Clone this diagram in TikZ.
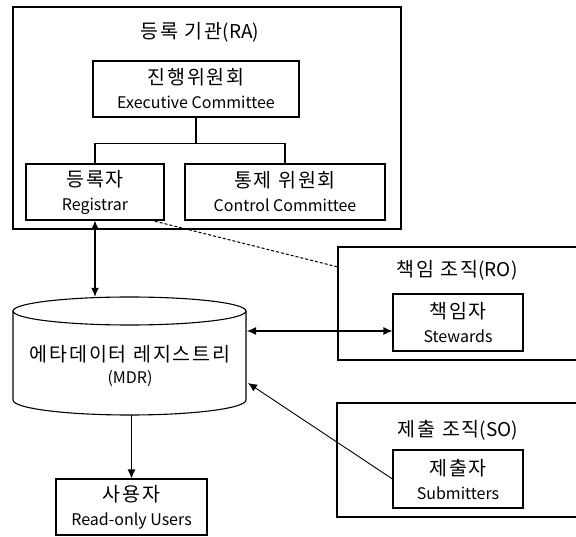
\documentclass[tikz,border=0pt]{standalone}
\usepackage{fontspec}
\setmainfont{Noto Sans CJK KR}
\newfontfamily\kofont[LetterSpace=10]{Noto Sans CJK KR}
\usetikzlibrary{arrows.meta,calc}
\newcommand{\ko}{\kofont\fontsize{19.5}{24}\selectfont}
\newcommand{\en}{\normalfont\fontsize{16}{24}\selectfont}
\newcommand{\lat}[1]{{\normalfont\fontsize{19}{24}\selectfont #1}}
\tikzset{
  box/.style={draw, line width=1.1pt, inner sep=0pt, align=center, fill=white, font=\ko},
  outer/.style={draw, line width=1.3pt, inner sep=0pt},
  ttl/.style={inner sep=0pt, font=\ko},
  conn/.style={line width=1.1pt},
  tip/.style={-{Latex[length=9pt,width=8pt]}},
  ttip/.style={{Latex[length=9pt,width=8pt]}-{Latex[length=9pt,width=8pt]}}
}
\begin{document}
\begin{tikzpicture}[x=1pt,y=-1pt]
\useasboundingbox (0,0) rectangle (576,537);
\clip (0,0) rectangle (576,537);
% outer organisation boxes
\node[outer, minimum width=388, minimum height=222] (ra) at (207,118) {};
\node[outer, minimum width=242, minimum height=113] (ro) at (459,303.5) {};
\node[outer, minimum width=243, minimum height=114] (so) at (458.5,460) {};
\node[ttl] (rat) at (200,32) {등록 기관\lat{(RA)}};
\node[ttl] (rot) at (457,270) {책임 조직\lat{(RO)}};
\node[ttl] (sot) at (458,430) {제출 조직\lat{(SO)}};
% inner boxes
\node[box, minimum width=206, minimum height=56] (exec) at (196,89) {진행위원회\\{\en Executive Committee}};
\node[box, minimum width=138, minimum height=56] (reg) at (95,192) {등록자\\{\en Registrar}};
\node[box, minimum width=200, minimum height=56] (ctrl) at (285,192) {통제 위원회\\{\en Control Committee}};
\node[box, minimum width=130, minimum height=57] (stw) at (458,322.5) {책임자\\{\en Stewards}};
\node[box, minimum width=130, minimum height=58] (sub) at (458,479) {제출자\\{\en Submitters}};
\node[box, minimum width=151, minimum height=56] (usr) at (131.5,507) {사용자\\{\en Read-only Users}};
% tree
\draw[conn] (exec.south) -- ++(0,26) coordinate (j);
\draw[conn] (reg.north) |- (j) -| (ctrl.north);
% MDR cylinder
\node[minimum width=233, minimum height=118, inner sep=0pt] (mdr) at (129.5,356) {};
\fill[white] (13,311) -- (13,400) arc[start angle=180,end angle=360,x radius=116.5pt,y radius=15pt] -- (246,311) -- cycle;
\draw[conn] (13,311) -- (13,400) arc[start angle=180,end angle=360,x radius=116.5pt,y radius=15pt] -- (246,311);
\draw[conn, fill=white] (129.5,311) ellipse[x radius=116.5pt, y radius=14pt];
\node[ttl, align=center, font=\kofont\fontsize{19.5}{22}\selectfont] (mdrt) at (130,366) {에타데이터 레지스트리\\{\normalfont\fontsize{16}{22}\selectfont (MDR)}};
% connectors
\coordinate (sa) at (247,331);
\coordinate (ds) at (150,220);
\coordinate (de) at (338,267);
\draw[conn, ttip] (reg.south) -- (reg.south |- mdr.north);
\draw[conn, tip] (mdr.south -| usr.north) -- (usr.north);
\draw[conn, ttip] (sa) -- (sa -| stw.west);
\draw[line width=0.9pt, tip] (sub.west) -- (248,383);
\draw[line width=1pt, dashed, dash pattern=on 3pt off 2pt] (ds) -- (de);
\end{tikzpicture}
\end{document}
